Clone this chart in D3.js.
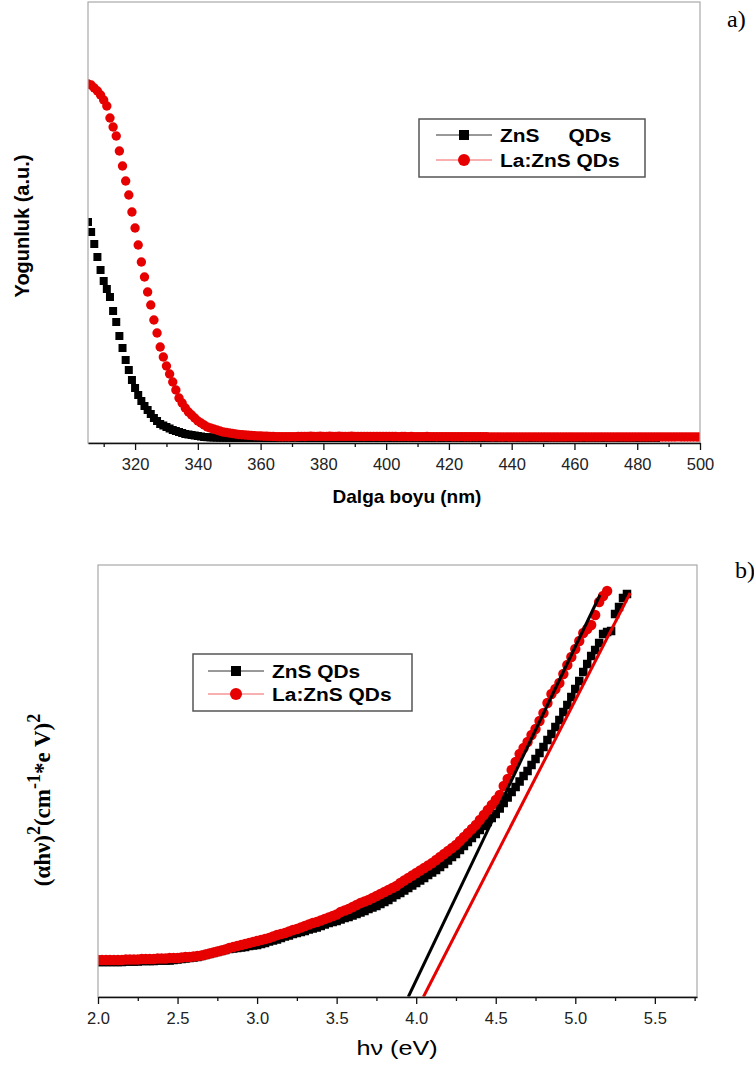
<!DOCTYPE html>
<html>
<head>
<meta charset="utf-8">
<script src="https://cdn.jsdelivr.net/npm/d3@7"></script>
<style>
    body { margin: 0; background: #fff; }
    svg { display: block; }
</style>
</head>
<body>
<div id="fig"></div>
<script>
// ---------- panel a: absorbance vs wavelength (1 nm steps, 305-500 nm) ----------
const wavelengths = d3.range(305, 501);
const wavelengthTicks = [320, 340, 360, 380, 400, 420, 440, 460, 480, 500];
const wavelengthMinor = [310, 330, 350, 370, 390, 410, 430, 450, 470, 490];

const znsAbs = [
    221, 211, 199, 186, 173, 162, 154, 146, 132, 121, 107, 95, 83, 73, 63,
    55, 48, 42, 37, 33, 29, 25, 22, 19, 17.5, 16, 14.5, 13, 12, 11,
    10, 9, 8.5, 8, 7.5, 7, 6.5, 6, 5.8, 5.6, 5.5,
    5.4, 5.3, 5.3, 5.2, 5.2, 5.1, 5.1, 5.1, 5.0, 5.0, 5.0, 5.0, 5.0, 5.0, 5.0,
    5.0, 5.0, 5.1, 5.0, 5.0, 5.1, 5.0, 5.0, 5.0, 5.1, 5.0, 5.0, 5.0, 5.0,
    5.0, 5.1, 5.0, 5.0, 5.0, 5.0, 5.1, 5.0, 5.0, 5.0, 5.0, 5.0, 5.1, 5.0,
    5.0, 5.0, 5.0, 5.0, 5.1, 5.0, 5.0, 5.0, 5.0, 5.1, 5.0, 5.0, 5.0, 5.0,
    5.0, 5.0, 5.1, 5.0, 5.0, 5.0, 5.0, 5.0, 5.1, 5.0, 5.0, 5.0, 5.0, 5.0,
    5.1, 5.0, 5.0, 5.0, 5.0, 5.0, 5.0, 5.1, 5.0, 5.0, 5.0, 5.0, 5.0, 5.0,
    5.0, 5.1, 5.0, 5.0, 5.0, 5.0, 5.0, 5.0, 5.1, 5.0, 5.0, 5.0, 5.0, 5.0,
    5.0, 5.0, 5.1, 5.0, 5.0, 5.0, 5.0, 5.0, 5.0, 5.1, 5.0, 5.0, 5.0, 5.0,
    5.0, 5.0, 5.0, 5.1, 5.0, 5.0, 5.0, 5.0, 5.0, 5.0, 5.0, 5.1, 5.0, 5.0,
    5.0, 5.0, 5.0, 5.0, 5.1, 5.0, 5.0, 5.0, 5.0, 5.0, 5.0, 5.0, 5.0, 5.0
];
const laZnsAbs = [
    359, 358, 355, 352, 348, 343, 337, 325, 316, 307, 292, 277, 262, 248, 231,
    215, 198, 181, 166, 151, 138, 123, 110, 96, 86, 77, 69, 61, 53, 45,
    40, 35, 31, 28, 25, 22, 20, 18, 16, 15, 14, 13, 12, 11, 10.5, 10,
    9.5, 9, 8.5, 8.2, 8, 7.7, 7.5, 7.3, 7.1, 7, 6.8, 6.7, 6.6, 6.5, 6.4,
    6.3, 6.3, 6.2, 6.3, 6.4, 6.3, 6.5, 6.6, 6.5, 6.6, 6.7, 6.6, 6.6, 6.7, 6.6,
    6.6, 6.7, 6.6, 6.6, 6.7, 6.6, 6.6, 6.6, 6.7, 6.6, 6.6, 6.6, 6.5, 6.6, 6.6,
    6.5, 6.6, 6.5, 6.5, 6.5, 6.6, 6.5, 6.5, 6.4, 6.5, 6.5, 6.4, 6.5, 6.4, 6.4,
    6.4, 6.4, 6.5, 6.4, 6.4, 6.3, 6.4, 6.4, 6.3, 6.4, 6.3, 6.3, 6.3, 6.4, 6.3,
    6.3, 6.3, 6.2, 6.3, 6.3, 6.2, 6.3, 6.1, 6.0, 6.1, 6.0, 6.0, 6.1, 6.0, 6.0,
    6.0, 6.1, 6.0, 6.0, 6.0, 6.1, 6.0, 6.0, 6.0, 6.0, 6.1, 6.0, 6.0, 6.0, 6.0,
    6.0, 6.0, 6.1, 6.0, 6.0, 6.0, 6.0, 6.1, 6.0, 6.0, 6.0, 6.0, 6.0, 6.1, 6.0,
    6.0, 6.0, 6.0, 6.1, 6.0, 6.0, 6.0, 6.0, 6.0, 6.1, 6.0, 6.0, 6.0, 6.0, 6.0,
    6.0, 6.1, 6.0, 6.0, 6.0, 6.0, 6.0, 6.1, 6.0, 6.0, 6.0, 6.0, 6.0, 6.0, 6.0
];

// ---------- panel b: Tauc plot (0.025 eV steps from 2.0 eV) ----------
const energies = d3.range(0, 134).map(i => 2 + i * 0.025);
const energyTicks = [2.0, 2.5, 3.0, 3.5, 4.0, 4.5, 5.0, 5.5];
const energyMinor = [2.25, 2.75, 3.25, 3.75, 4.25, 4.75, 5.25, 5.75];

const znsTauc = [
    35, 35, 35, 35, 35, 35, 35, 35.5,
    35.5, 35.5, 35.5, 36, 36, 36, 36, 36.5,
    36.5, 36.5, 36.5, 37, 37.5, 38, 38.5, 39,
    39.5, 40, 41, 42, 43, 44, 45, 46,
    47, 48, 48.5, 49, 49.5, 50, 51, 51.5,
    52, 53, 54, 55.5, 56.5, 57.5, 59, 60.5,
    61.5, 63, 64, 65, 66, 67.5, 68.5, 69.5,
    71, 72.5, 74, 75, 76, 77.5, 79, 80,
    81.5, 83, 84.5, 86, 88, 89.5, 91, 93,
    95, 97, 99.5, 102, 104, 106.5, 109, 111.5,
    114, 116.5, 119, 122, 124.5, 127, 130, 133,
    136.5, 140, 143, 147, 151, 155, 159, 163,
    167, 171, 175, 179, 183, 188.5, 194, 199.5,
    205, 210, 215.5, 221, 226, 232, 238, 244,
    250, 257, 263, 270, 277, 285, 292, 300,
    308, 316, 325, 333, 341, 347, 354, 363,
    365, 366, 383, 390, 399, 403
];
const laZnsTauc = [
    37, 37, 37, 37, 37, 37, 37, 37.5,
    37.5, 37.5, 37.5, 38, 38, 38, 38, 38.5,
    38.5, 38.5, 39, 39, 39, 39.5, 40, 40,
    40.5, 41, 41.5, 42.5, 43.5, 44.5, 45.5, 46.5,
    47.5, 49, 50, 51, 52, 53, 54, 55,
    56, 57, 58, 59, 60.5, 62, 63, 64,
    65.5, 67, 68, 69.5, 71, 72.5, 74, 75,
    76.5, 78, 79.5, 81, 82.5, 85, 86.5, 88,
    90, 92, 94, 95.5, 97, 99, 101, 103,
    105, 107, 109, 111, 114, 116.5, 119, 121.5,
    124, 126.5, 129, 131.5, 134, 137, 140, 143,
    146, 149, 152, 156, 160, 164, 168, 172,
    177, 182, 187, 192, 197, 202, 211, 218,
    227, 235, 243, 249, 255, 262, 268, 276,
    284, 294, 303, 308, 314, 323, 332, 340,
    348, 356, 364, 368, 372, 382, 395, 401,
    406
];

// linear fits drawn on the plot (energy, value)
const fitBlackEnergy = [3.95, 5.155];
const fitBlackValue = [0, 402];
const fitRedEnergy = [4.045, 5.345];
const fitRedValue = [0, 404];

const RED = "#e60000";
const BLACK = "#000";
const SANS = "Arial, 'Liberation Sans', sans-serif";
const SERIF = "'Times New Roman', 'Liberation Serif', serif";

const svg = d3.select("#fig")
    .append("svg")
    .attr("width", 754)
    .attr("height", 1068);

// plot boxes in page pixels
const boxA = { left: 88, right: 700, top: 2, bottom: 443 };
const boxB = { left: 98, right: 697, top: 565, bottom: 997 };

function drawFrame(box) {
    svg.append("rect")
        .attr("x", box.left)
        .attr("y", box.top)
        .attr("width", box.right - box.left)
        .attr("height", box.bottom - box.top)
        .attr("fill", "none")
        .attr("stroke", "#a9a9a9")
        .attr("stroke-width", 1.2);
}

function drawXAxis(x, box, major, minor, fmt) {
    const minorAxis = svg.append("g")
        .attr("transform", `translate(0,${box.bottom})`)
        .call(d3.axisBottom(x).tickValues(minor).tickSize(4).tickFormat(""));
    minorAxis.select(".domain").remove();
    minorAxis.selectAll("line").attr("stroke", "#111").attr("stroke-width", 1.3);

    const ax = svg.append("g")
        .attr("class", "x-axis")
        .attr("transform", `translate(0,${box.bottom})`)
        .call(d3.axisBottom(x)
            .tickValues(major)
            .tickSizeInner(7)
            .tickSizeOuter(0)
            .tickPadding(8)
            .tickFormat(fmt));
    ax.select(".domain").attr("stroke", "#111").attr("stroke-width", 1.6);
    ax.selectAll(".tick line").attr("stroke", "#111").attr("stroke-width", 1.3);
    ax.selectAll("text")
        .attr("font-size", 16.5)
        .attr("font-family", SANS)
        .attr("fill", "#222");
}

function clipFor(id, box) {
    svg.append("clipPath")
        .attr("id", id)
        .append("rect")
        .attr("x", box.left)
        .attr("y", box.top)
        .attr("width", box.right - box.left)
        .attr("height", box.bottom - box.top);
}

function drawSquares(g, xs, ys, x, y, size) {
    g.selectAll(null)
        .data(ys)
        .enter()
        .append("rect")
        .attr("x", (d, i) => x(xs[i]) - size / 2)
        .attr("y", d => y(d) - size / 2)
        .attr("width", size)
        .attr("height", size)
        .attr("fill", BLACK);
}

function drawCircles(g, xs, ys, x, y, r) {
    g.selectAll(null)
        .data(ys)
        .enter()
        .append("circle")
        .attr("cx", (d, i) => x(xs[i]))
        .attr("cy", d => y(d))
        .attr("r", r)
        .attr("fill", RED);
}

// text with a horizontal stretch, the original figure is wider than tall
function stretchedText(px, py, str, size, weight, sx, anchor) {
    return svg.append("text")
        .attr("transform", `translate(${px},${py}) scale(${sx},1)`)
        .attr("text-anchor", anchor || "start")
        .attr("font-family", SANS)
        .attr("font-size", size)
        .attr("font-weight", weight)
        .style("white-space", "pre")
        .text(str);
}

function drawLegend(box, rows, labels) {
    svg.append("rect")
        .attr("x", box.x)
        .attr("y", box.y)
        .attr("width", box.w)
        .attr("height", box.h)
        .attr("fill", "#fff")
        .attr("stroke", "#555")
        .attr("stroke-width", 1.5);
    rows.forEach((ry, i) => {
        const lx0 = box.x + box.lineStart;
        const lx1 = lx0 + 56;
        const mid = (lx0 + lx1) / 2;
        svg.append("line")
            .attr("x1", lx0).attr("x2", lx1)
            .attr("y1", ry).attr("y2", ry)
            .attr("stroke", i === 0 ? "#333" : "#f06060")
            .attr("stroke-width", 1);
        if (i === 0) {
            svg.append("rect")
                .attr("x", mid - 5).attr("y", ry - 5)
                .attr("width", 10).attr("height", 10)
                .attr("fill", BLACK);
        } else {
            svg.append("circle")
                .attr("cx", mid).attr("cy", ry).attr("r", 6)
                .attr("fill", RED);
        }
        stretchedText(box.x + box.textStart, ry + 7, labels[i], 19, "bold", 1.1);
    });
}

// ================= panel a =================
const xA = d3.scaleLinear().domain([305, 500]).range([boxA.left, boxA.right]);
const yA = d3.scaleLinear().domain([0, 441]).range([boxA.bottom, boxA.top]);

clipFor("clipA", boxA);
const gA = svg.append("g").attr("clip-path", "url(#clipA)");
drawSquares(gA, wavelengths, znsAbs, xA, yA, 8);
drawCircles(gA, wavelengths, laZnsAbs, xA, yA, 4.7);

drawFrame(boxA);
drawXAxis(xA, boxA, wavelengthTicks, wavelengthMinor, d3.format("d"));

stretchedText(407, 503, "Dalga boyu (nm)", 19, "bold", 1.0, "middle");
svg.append("text")
    .attr("transform", "translate(29,226) rotate(-90)")
    .attr("text-anchor", "middle")
    .attr("font-family", SANS)
    .attr("font-size", 20)
    .attr("font-weight", "bold")
    .text("Yogunluk (a.u.)");

drawLegend({ x: 419, y: 119, w: 226, h: 58, lineStart: 17, textStart: 81 },
    [135, 160], ["ZnS     QDs", "La:ZnS QDs"]);

svg.append("text")
    .attr("x", 727).attr("y", 27)
    .attr("font-family", SERIF)
    .attr("font-size", 24)
    .text("a)");

// ================= panel b =================
const xB = d3.scaleLinear().domain([2.0, 5.765]).range([boxB.left, boxB.right]);
const yB = d3.scaleLinear().domain([0, 432]).range([boxB.bottom, boxB.top]);

clipFor("clipB", boxB);
const gB = svg.append("g").attr("clip-path", "url(#clipB)");
drawSquares(gB, energies, znsTauc, xB, yB, 8.5);
drawCircles(gB, energies, laZnsTauc, xB, yB, 5.2);

const fitLine = d3.line()
    .x(d => xB(d[0]))
    .y(d => yB(d[1]));
gB.append("path")
    .attr("d", fitLine(fitBlackEnergy.map((e, i) => [e, fitBlackValue[i]])))
    .attr("stroke", BLACK)
    .attr("stroke-width", 3)
    .attr("fill", "none");
gB.append("path")
    .attr("d", fitLine(fitRedEnergy.map((e, i) => [e, fitRedValue[i]])))
    .attr("stroke", RED)
    .attr("stroke-width", 3)
    .attr("fill", "none");

drawFrame(boxB);
drawXAxis(xB, boxB, energyTicks, energyMinor, d3.format(".1f"));

stretchedText(397, 1055, "h\u03BD (eV)", 21, "normal", 1.2, "middle");

// y label with superscripts
const yLabB = svg.append("text")
    .attr("transform", "translate(50,800) rotate(-90)")
    .attr("text-anchor", "middle")
    .attr("font-family", SERIF)
    .attr("font-size", 23)
    .attr("font-weight", "bold");
yLabB.append("tspan").text("(\u03B1h\u03BD)");
yLabB.append("tspan").attr("dy", -10).attr("font-size", 18).text("2");
yLabB.append("tspan").attr("dy", 10).text("(cm");
yLabB.append("tspan").attr("dy", -10).attr("font-size", 18).text("-1");
yLabB.append("tspan").attr("dy", 10).text("*e V)");
yLabB.append("tspan").attr("dy", -10).attr("font-size", 18).text("2");

drawLegend({ x: 193, y: 654, w: 219, h: 57, lineStart: 15, textStart: 79 },
    [671, 694], ["ZnS QDs", "La:ZnS QDs"]);

svg.append("text")
    .attr("x", 735).attr("y", 578)
    .attr("font-family", SERIF)
    .attr("font-size", 24)
    .text("b)");
</script>
</body>
</html>
